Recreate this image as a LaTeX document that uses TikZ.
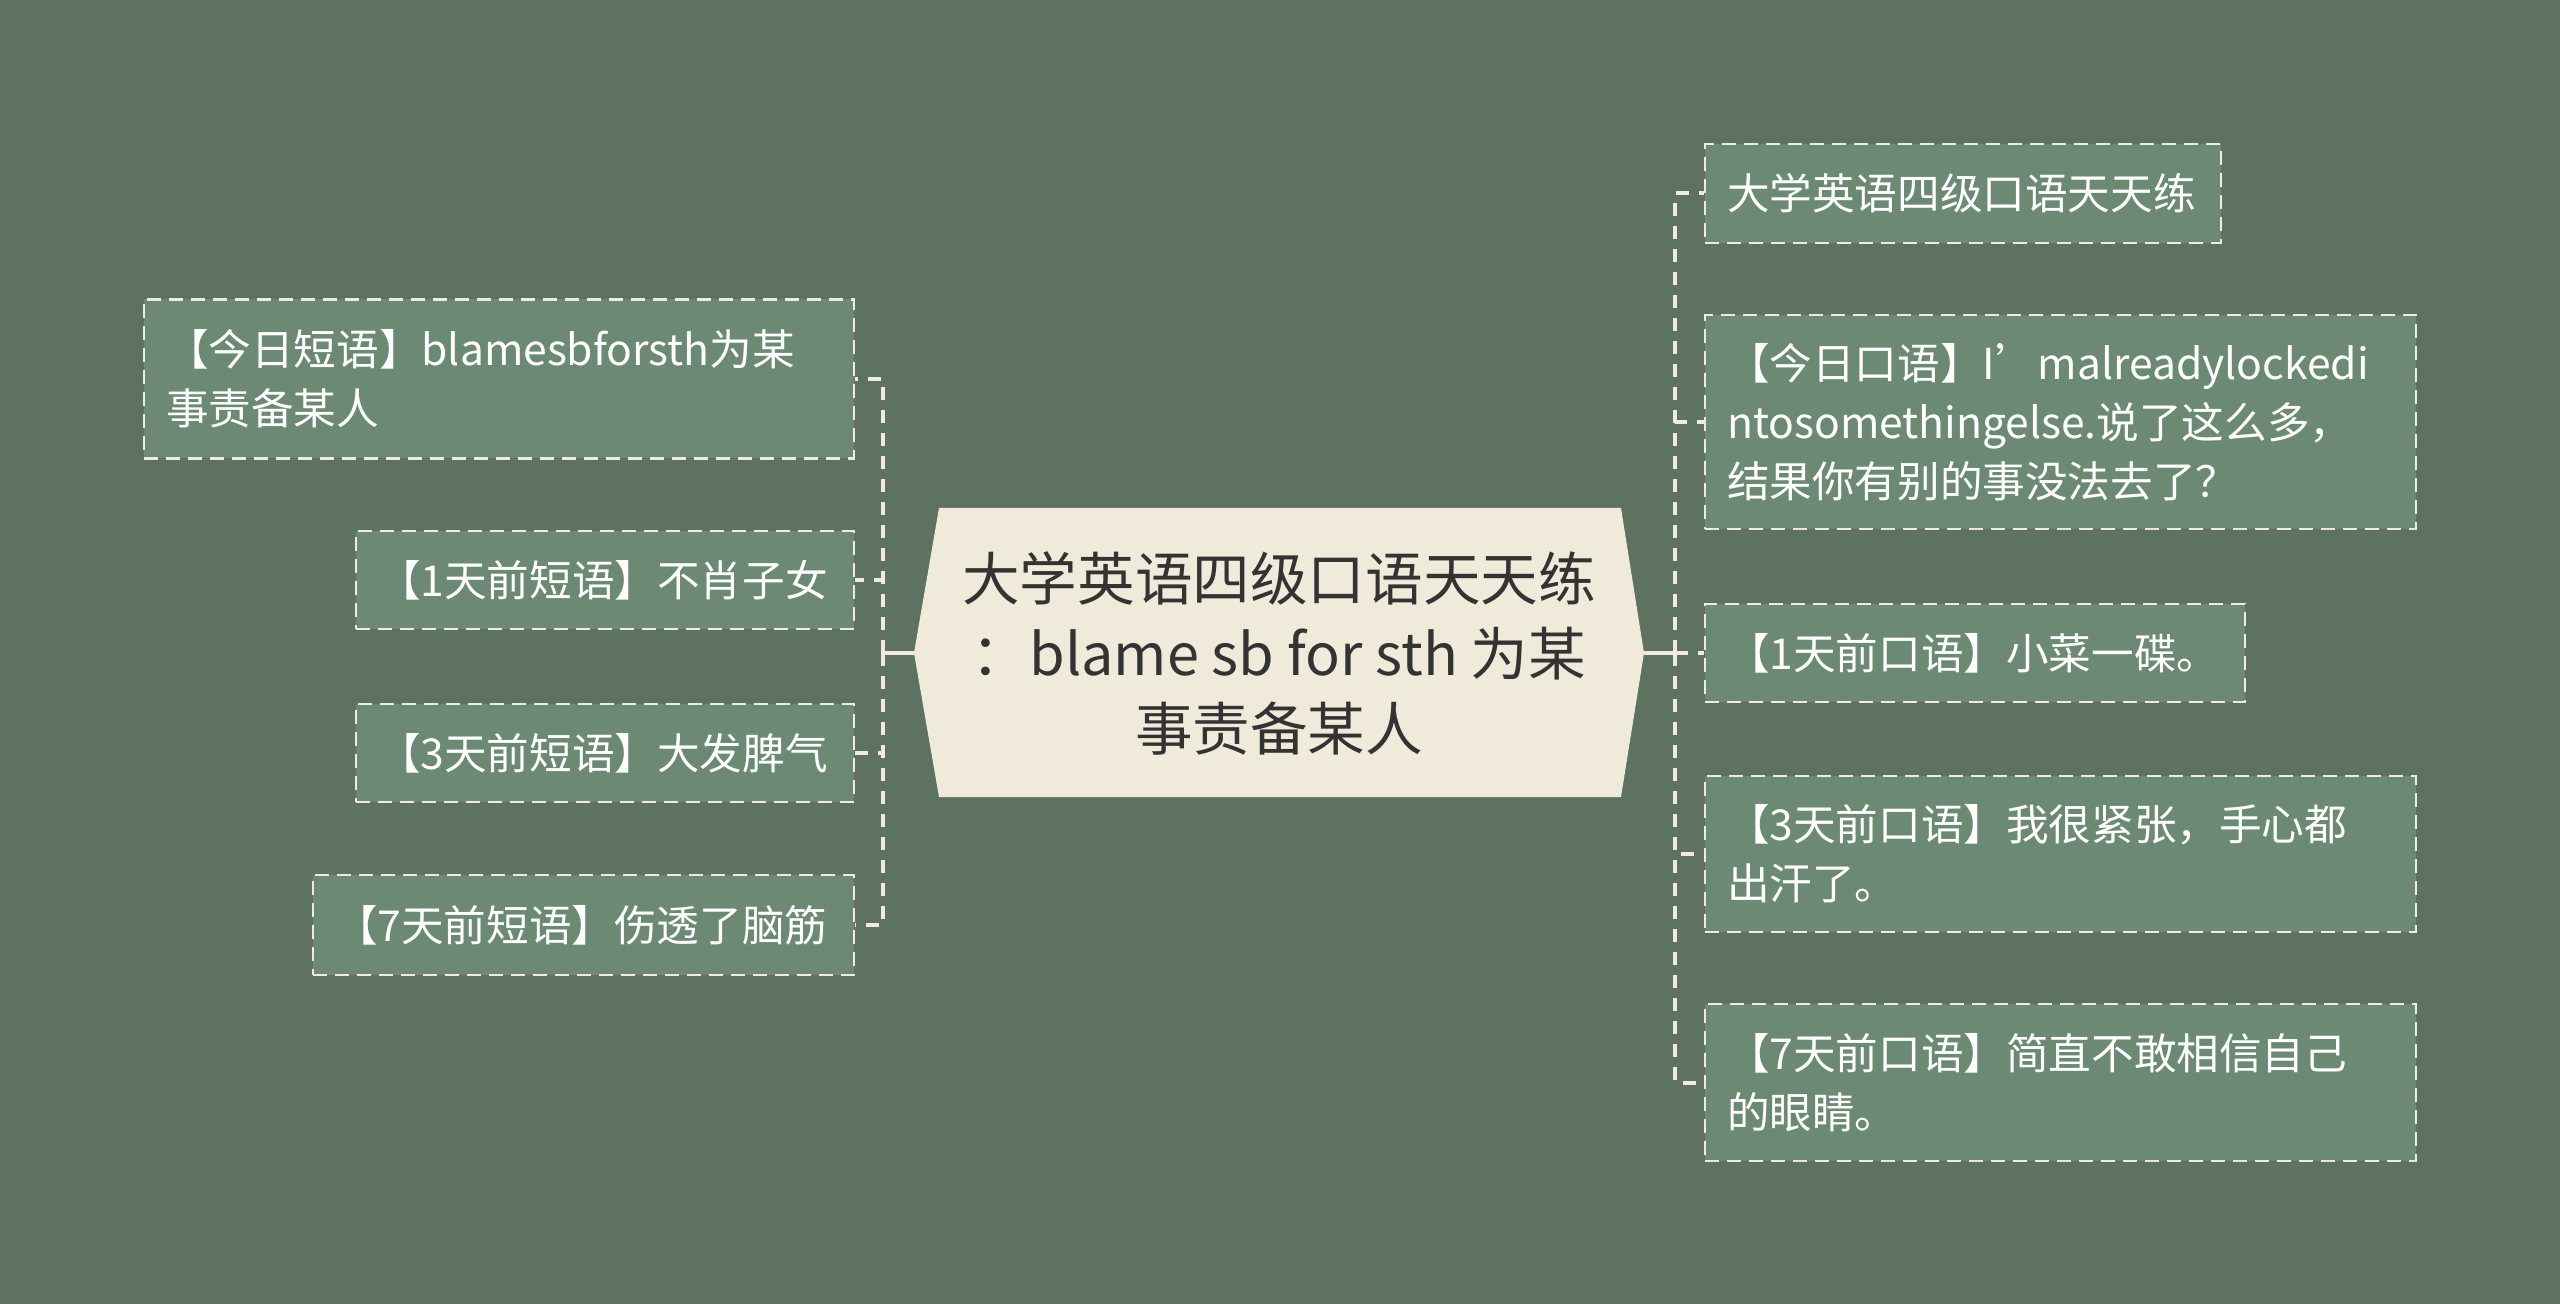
\documentclass[tikz,border=0pt]{standalone}
\usepackage{fontspec}
\setmainfont{Noto Sans CJK SC}
\usepackage{tikz}

\definecolor{bgcol}{RGB}{94,114,98}
\definecolor{leafcol}{RGB}{108,138,115}
\definecolor{creamcol}{RGB}{240,235,220}
\definecolor{rootcol}{RGB}{239,234,218}
\definecolor{inkcol}{RGB}{51,51,51}

\begin{document}
\begin{tikzpicture}[x=0.5pt, y=-0.5pt,
  leaf/.style={draw=creamcol, fill=leafcol, line width=1.3pt,
    dash pattern=on 7pt off 4pt, text=white, align=left,
    inner xsep=11pt, inner ysep=0pt,
    font=\fontsize{21.3}{29.4}\selectfont},
  link/.style={draw=creamcol, line width=2pt, dash pattern=on 6.5pt off 5pt},
  stem/.style={draw=creamcol, line width=2pt}]

% Background
\fill[bgcol] (0,0) rectangle (2560,1304);
\useasboundingbox (0,0) rectangle (2560,1304);

% Central topic
\fill[rootcol] (914,653) -- (939,508) -- (1621,508) -- (1644,653)
  -- (1621,797) -- (939,797) -- cycle;
\node[text=inkcol, align=center, minimum width=365pt, minimum height=144.5pt,
  font=\fontsize{28.8}{37.5}\selectfont] (root) at (1279,653)
  {大学英语四级口语天天练\\：blame sb for sth 为某\\事责备某人};

% Left branch
\node[leaf, text width=333pt, minimum height=79.5pt] (l1) at (499,379)
  {【今日短语】blamesbforsth为某\\事责备某人};
\node[leaf, text width=227pt, minimum height=49pt] (l2) at (605,580)
  {【1天前短语】不肖子女};
\node[leaf, text width=227pt, minimum height=49pt] (l3) at (605,753)
  {【3天前短语】大发脾气};
\node[leaf, text width=248.5pt, minimum height=50pt] (l4) at (583.5,925)
  {【7天前短语】伤透了脑筋};

% Right branch
\node[leaf, text width=236pt, minimum height=49.5pt] (r1) at (1963,193.5)
  {大学英语四级口语天天练};
\node[leaf, text width=333.5pt, minimum height=107pt] (r2) at (2060.5,422)
  {【今日口语】I’malreadylockedi\\ntosomethingelse.说了这么多，\\结果你有别的事没法去了？};
\node[leaf, text width=248pt, minimum height=49pt] (r3) at (1975,653)
  {【1天前口语】小菜一碟。};
\node[leaf, text width=333.5pt, minimum height=78pt] (r4) at (2060.5,854)
  {【3天前口语】我很紧张，手心都\\出汗了。};
\node[leaf, text width=333.5pt, minimum height=78.5pt] (r5) at (2060.5,1082.5)
  {【7天前口语】简直不敢相信自己\\的眼睛。};

% Connectors
\coordinate (lj) at (883,653);
\coordinate (rj) at (1675,653);
\draw[stem] (root.west) -- (lj);
\draw[stem] (root.east) -- (rj);
\foreach \n in {l1,l2,l3,l4} {
  \draw[link] (lj) |- (\n.east);
}
\foreach \n in {r1,r2,r3,r4,r5} {
  \draw[link] (rj) |- (\n.west);
}

\end{tikzpicture}
\end{document}
